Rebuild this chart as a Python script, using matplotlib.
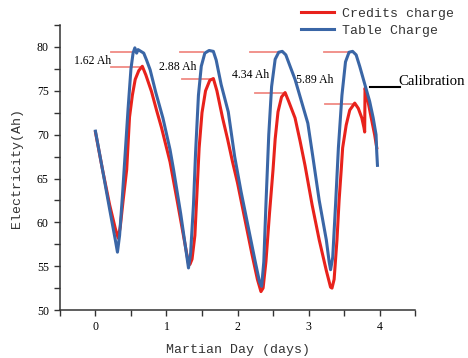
import matplotlib
matplotlib.use("Agg")
import matplotlib.pyplot as plt
from matplotlib.ticker import MultipleLocator

# ---- data ----
table_x = [0.00, 0.10, 0.20, 0.28, 0.31, 0.34, 0.38, 0.42, 0.46, 0.50, 0.53, 0.555, 0.58, 0.60, 0.64, 0.68,
           0.72, 0.77, 0.85, 0.95, 1.05, 1.10, 1.20, 1.28, 1.31, 1.34, 1.38, 1.41, 1.45, 1.49, 1.54, 1.60,
           1.66, 1.70, 1.77, 1.87, 1.96, 2.05, 2.15, 2.25, 2.31, 2.34, 2.37, 2.40, 2.44, 2.48, 2.53, 2.58,
           2.63, 2.68, 2.74, 2.81, 2.90, 2.99, 3.06, 3.15, 3.25, 3.29, 3.31, 3.34, 3.38, 3.42, 3.47, 3.52,
           3.57, 3.62, 3.67, 3.72, 3.79, 3.86, 3.91, 3.95, 3.96, 3.97]
table_y = [70.4, 66.0, 61.5, 58.0, 56.6, 58.5, 63.0, 68.0, 73.0, 77.5, 79.3, 79.9, 79.3, 79.7, 79.5, 79.3,
           78.5, 77.4, 74.8, 71.9, 68.3, 66.0, 61.0, 56.5, 54.8, 56.5, 62.0, 68.0, 74.5, 77.8, 79.3, 79.6,
           79.5, 78.5, 75.7, 72.6, 67.5, 63.5, 59.5, 55.5, 53.2, 52.7, 55.5, 62.0, 70.0, 75.5, 78.6, 79.4,
           79.5, 79.1, 77.8, 76.3, 73.8, 71.3, 67.5, 62.5, 58.0, 55.5, 54.6, 56.0, 62.0, 68.5, 74.5, 78.3,
           79.4, 79.5, 79.1, 77.8, 75.8, 73.8, 71.9, 70.0, 68.0, 66.5]

credit_x = [0.00, 0.10, 0.20, 0.28, 0.32, 0.35, 0.39, 0.44, 0.48, 0.52, 0.56, 0.61, 0.66, 0.71, 0.79, 0.86,
            0.93, 1.05, 1.15, 1.25, 1.31, 1.33, 1.36, 1.40, 1.43, 1.46, 1.50, 1.55, 1.61, 1.66, 1.71, 1.79,
            1.86, 1.93, 2.00, 2.10, 2.20, 2.28, 2.33, 2.36, 2.40, 2.45, 2.50, 2.53, 2.57, 2.62, 2.67, 2.72,
            2.81, 2.88, 2.95, 3.05, 3.15, 3.25, 3.31, 3.33, 3.36, 3.40, 3.43, 3.46, 3.48, 3.53, 3.58, 3.65,
            3.70, 3.75, 3.78, 3.79, 3.795, 3.82, 3.88, 3.93, 3.96]
credit_y = [70.3, 66.0, 62.0, 59.3, 58.2, 59.5, 62.5, 66.0, 72.0, 74.5, 76.3, 77.3, 77.8, 76.8, 74.9, 72.8,
            70.8, 66.9, 62.5, 58.0, 55.3, 55.2, 55.8, 58.5, 63.5, 68.5, 72.5, 75.0, 76.2, 76.4, 75.0, 71.9,
            69.5, 66.9, 64.5, 60.5, 56.5, 53.5, 52.1, 52.5, 55.5, 61.0, 66.0, 69.5, 72.6, 74.3, 74.8, 73.8,
            71.9, 69.3, 66.5, 62.0, 58.0, 54.5, 52.6, 52.5, 53.5, 58.0, 62.5, 66.0, 68.5, 71.1, 72.8, 73.6,
            73.0, 71.9, 70.8, 70.3, 75.3, 74.5, 72.0, 70.0, 68.5]

series_names = ["Credits charge", "Table Charge"]

# annotation reference levels (upper = table peak, lower = credits peak)
ann_labels = ["1.62 Ah", "2.88 Ah", "4.34 Ah", "5.89 Ah"]
ann_upper_y = [79.45, 79.45, 79.45, 79.45]
ann_lower_y = [77.7, 76.4, 74.8, 73.5]
ann_upper_x0 = [0.215, 1.19, 2.18, 3.215]
ann_upper_x1 = [0.525, 1.51, 2.58, 3.61]
ann_lower_x0 = [0.215, 1.215, 2.24, 3.23]
ann_lower_x1 = [0.65, 1.65, 2.65, 3.66]
ann_text_x = [0.215, 0.89, 1.92, 2.82]
ann_text_y = [78.4, 77.75, 76.8, 76.2]
ann_text_ha = ["right", "left", "left", "left"]

calib_label = "Calibration"
calib_x = [3.86, 4.29]
calib_y = 75.4

xticks = [0, 1, 2, 3, 4]
yticks = [50, 55, 60, 65, 70, 75, 80]

# ---- plot ----
RED = "#e8221c"
BLUE = "#3a66a6"
LIGHTRED = "#f08a84"
mono = ["Liberation Mono", "DejaVu Sans Mono"]
serif = ["Liberation Serif", "DejaVu Serif"]

fig = plt.figure(figsize=(4.68, 3.58), dpi=100)
ax = fig.add_axes([0.128, 0.134, 0.759, 0.796])

l1, = ax.plot(credit_x, credit_y, color=RED, lw=2.2, label=series_names[0], zorder=3,
              solid_joinstyle="round")
l2, = ax.plot(table_x, table_y, color=BLUE, lw=2.2, label=series_names[1], zorder=4,
              solid_joinstyle="round")

for i in range(len(ann_labels)):
    ax.plot([ann_upper_x0[i], ann_upper_x1[i]], [ann_upper_y[i]] * 2, color=LIGHTRED, lw=1.3, zorder=2)
    ax.plot([ann_lower_x0[i], ann_lower_x1[i]], [ann_lower_y[i]] * 2, color=LIGHTRED, lw=1.3, zorder=2)
    ax.text(ann_text_x[i], ann_text_y[i], ann_labels[i], ha=ann_text_ha[i], va="center",
            family=serif, fontsize=8.5)

ax.plot(calib_x, [calib_y, calib_y], color="black", lw=1.5, zorder=5)
ax.text(calib_x[1] - 0.03, calib_y + 0.25, calib_label, ha="left", va="baseline", family=serif,
        fontsize=10.6, clip_on=False)

ax.set_xlim(-0.5, 4.5)
ax.set_ylim(50, 82.5)
ax.set_xticks(xticks)
ax.set_yticks(yticks)
ax.xaxis.set_minor_locator(MultipleLocator(0.5))
ax.yaxis.set_minor_locator(MultipleLocator(2.5))
ax.tick_params(which="both", direction="out", length=4, width=1, pad=4, labelsize=8.5)
for lab in ax.get_xticklabels() + ax.get_yticklabels():
    lab.set_family(serif)
for s in ["top", "right"]:
    ax.spines[s].set_visible(False)
for s in ["left", "bottom"]:
    ax.spines[s].set_linewidth(1.1)
    ax.spines[s].set_color("#333333")
ax.tick_params(which="both", color="#333333")

ax.set_xlabel("Martian Day (days)", family=mono, fontsize=9.5, color="#333333", labelpad=8)
ax.set_ylabel("Electricity(Ah)", family=mono, fontsize=9.5, color="#333333", labelpad=10)

leg = ax.legend(handles=[l1, l2], loc="upper left", bbox_to_anchor=(0.634, 0.99),
                bbox_transform=fig.transFigure, frameon=False,
                prop={"family": mono, "size": 9.5}, handlelength=2.5, handletextpad=0.6,
                labelspacing=0.35, borderaxespad=0, borderpad=0.3)
for t in leg.get_texts():
    t.set_color("#333333")

fig.savefig("out.png", dpi=100)
